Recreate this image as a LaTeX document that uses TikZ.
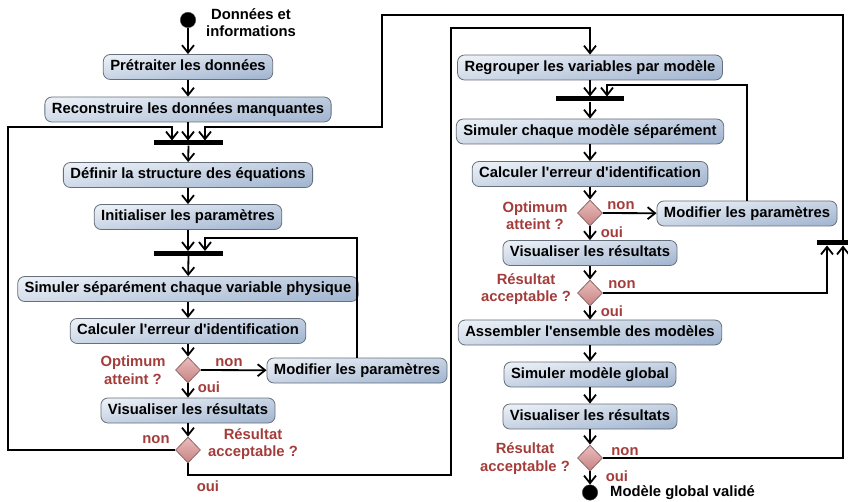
\documentclass[tikz,border=0pt]{standalone}
\usepackage{fontspec}
\setmainfont{Liberation Sans}
\usetikzlibrary{arrows.meta,shapes.geometric}
\definecolor{actTop}{HTML}{EAEFF6}
\definecolor{actBot}{HTML}{A4B7D1}
\definecolor{actLine}{HTML}{65707C}
\definecolor{decTop}{HTML}{EBBDBD}
\definecolor{decBot}{HTML}{C78282}
\definecolor{decLine}{HTML}{8A6A6A}
\definecolor{lblRed}{HTML}{A33D3B}
\begin{document}
\begin{tikzpicture}[x=1pt,y=-1pt,
  act/.style={draw=actLine, line width=0.8pt, rounded corners=7pt,
    top color=actTop, bottom color=actBot, shading angle=8,
    minimum height=25pt, inner xsep=7pt, inner ysep=0pt,
    text height=10.6pt, text depth=3pt,
    font=\fontsize{14.8}{17}\selectfont\bfseries},
  dec/.style={diamond, draw=decLine, line width=0.8pt, top color=decTop, bottom color=decBot,
    minimum width=25pt, minimum height=26pt, inner sep=0pt},
  bar/.style={fill=black, inner sep=0pt, minimum height=5pt},
  ini/.style={circle, fill=black, draw=black!70, inner sep=0pt, minimum size=15.5pt},
  lbl/.style={text=lblRed, font=\fontsize{14.8}{17.5}\selectfont\bfseries, align=center, inner sep=0pt},
  txt/.style={font=\fontsize{14.8}{17}\selectfont\bfseries, align=center, inner sep=0pt},
  flow/.style={line width=1.8pt, -{Straight Barb[length=7.5pt,width=12pt,line width=1.8pt]}}
]
\useasboundingbox (0,0) rectangle (848,502);
% ---------------- left column ----------------
\node[ini] (start) at (188,20) {};
\node[txt] (startlbl) at (251,22.5) {Données et\\informations};
\node[act] (pre) at (188,67) {Prétraiter les données};
\node[act] (recon) at (188,109.5) {Reconstruire les données manquantes};
\node[bar, minimum width=69pt] (b1) at (188.5,143) {};
\node[act] (def) at (188,175) {Définir la structure des équations};
\node[act] (init) at (188,217) {Initialiser les paramètres};
\node[bar, minimum width=69pt] (b2) at (188.5,253.5) {};
\node[act] (sim) at (188,289) {Simuler séparément chaque variable physique};
\node[act] (calc) at (188,331) {Calculer l\textquotesingle erreur d\textquotesingle identification};
\node[dec] (d1) at (188,370) {};
\node[act] (modL) at (357,370.5) {Modifier les paramètres};
\node[act] (vis) at (188,410.5) {Visualiser les résultats};
\node[dec] (d2) at (188,450) {};
% labels left
\node[lbl] (l1) at (133,370) {Optimum\\atteint ?};
\node[lbl] (l2) at (229,363) {non};
\node[lbl] (l3) at (209,387) {oui};
\node[lbl] (l4) at (253,444) {Résultat\\acceptable ?};
\node[lbl] (l5) at (156,440) {non};
\node[lbl] (l6) at (208,486) {oui};
% ---------------- right column ----------------
\node[act] (regroup) at (590,67.5) {Regrouper les variables par modèle};
\node[bar, minimum width=68pt] (b3) at (590,99) {};
\node[act] (simc) at (590,131.5) {Simuler chaque modèle séparément};
\node[act] (calcR) at (590,174) {Calculer l\textquotesingle erreur d\textquotesingle identification};
\node[dec] (d3) at (590,213) {};
\node[act] (modR) at (747,213.5) {Modifier les paramètres};
\node[act] (visR) at (590,253) {Visualiser les résultats};
\node[dec] (d4) at (590,293) {};
\node[act] (assem) at (590,332.5) {Assembler l\textquotesingle ensemble des modèles};
\node[act] (simg) at (590,374.5) {Simuler modèle global};
\node[act] (visg) at (590,416.5) {Visualiser les résultats};
\node[dec] (d5) at (590,458) {};
\node[ini] (fin) at (590,492.5) {};
\node[txt, anchor=west] (finlbl) at (610,493) {Modèle global validé};
\node[bar, minimum width=33pt] (bR) at (833,243) {};
% labels right
\node[lbl] (r1) at (535,215.5) {Optimum\\atteint ?};
\node[lbl] (r2) at (621,206) {non};
\node[lbl] (r3) at (612,232) {oui};
\node[lbl] (r4) at (526,289) {Résultat\\acceptable ?};
\node[lbl] (r5) at (622,285) {non};
\node[lbl] (r6) at (612,311) {oui};
\node[lbl] (r7) at (525,458.5) {Résultat\\acceptable ?};
\node[lbl] (r8) at (625,452) {non};
\node[lbl] (r9) at (617,476) {oui};
% ---------------- coordinates ----------------
\coordinate (b1l) at (172,140.5);
\coordinate (b1m) at (188,140.5);
\coordinate (b1r) at (205,140.5);
\coordinate (cL) at (8,127);
\coordinate (cT) at (382,15);
\coordinate (cM) at (382,127);
\coordinate (cB) at (451,475);
\coordinate (cU) at (590,28);
\coordinate (b2m) at (188,251);
\coordinate (b2r) at (205,251);
\coordinate (c1) at (205,238);
\coordinate (b3m) at (590,96.5);
\coordinate (b3r) at (607,96.5);
\coordinate (c2) at (607,85);
\coordinate (bRl) at (827,245.5);
\coordinate (bRr) at (843,245.5);
\coordinate (bRo) at (843,240.5);
% ---------------- connectors left ----------------
\draw[flow] (start) -- (pre);
\draw[flow] (pre) -- (recon);
\draw[flow] (recon) -- (b1m);
\draw[flow] (b1) -- (def);
\draw[flow] (def) -- (init);
\draw[flow] (init) -- (b2m);
\draw[flow] (b2) -- (sim);
\draw[flow] (sim) -- (calc);
\draw[flow] (calc) -- (d1);
\draw[flow] (d1) -- (modL);
\draw[flow] (d1) -- (vis);
\draw[flow] (modL.north) |- (c1) -- (b2r);
\draw[flow] (vis) -- (d2);
\draw[flow] (d2.west) -| (cL) -| (b1l);
\draw[flow] (d2.south) |- (cB) |- (cU) -- (regroup.north);
% ---------------- connectors right ----------------
\draw[flow] (regroup) -- (b3m);
\draw[flow] (b3) -- (simc);
\draw[flow] (simc) -- (calcR);
\draw[flow] (calcR) -- (d3);
\draw[flow] (d3) -- (modR);
\draw[flow] (modR.north) |- (c2) -- (b3r);
\draw[flow] (d3) -- (visR);
\draw[flow] (visR) -- (d4);
\draw[flow] (d4.east) -| (bRl);
\draw[flow] (d4) -- (assem);
\draw[flow] (assem) -- (simg);
\draw[flow] (simg) -- (visg);
\draw[flow] (visg) -- (d5);
\draw[flow] (d5.east) -| (bRr);
\draw[flow] (d5) -- (fin);
\draw[flow] (bRo) |- (cT) -- (cM) -| (b1r);
\end{tikzpicture}
\end{document}
